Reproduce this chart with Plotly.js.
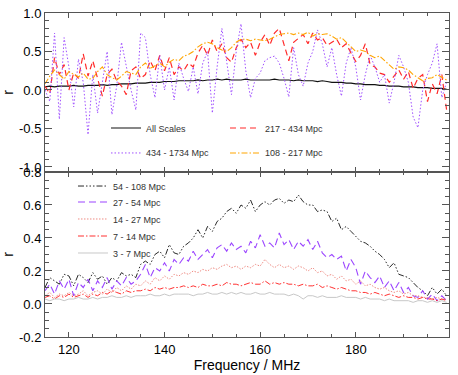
<!DOCTYPE html>
<html>
<head>
<meta charset="utf-8">
<script src="https://cdn.plot.ly/plotly-3.0.1.min.js"></script>
<style>
  html, body { margin: 0; padding: 0; background: #fff; }
  #corr_graph { width: 458px; height: 375px; }
</style>
</head>
<body>
<div id="corr_graph"></div>
<script>
var freq = [115,116,117,118,119,120,121,122,123,124,
  125,126,127,128,129,130,131,132,133,134,
  135,136,137,138,139,140,141,142,143,144,
  145,146,147,148,149,150,151,152,153,154,
  155,156,157,158,159,160,161,162,163,164,
  165,166,167,168,169,170,171,172,173,174,
  175,176,177,178,179,180,181,182,183,184,
  185,186,187,188,189,190,191,192,193,194,
  195,196,197,198,199];

// top panel
var r_all = [0.04,0.05,0.04,0.05,0.05,0.05,0.06,0.05,0.05,0.06,
  0.06,0.06,0.07,0.06,0.07,0.07,0.08,0.08,0.08,0.09,
  0.09,0.09,0.10,0.10,0.10,0.11,0.11,0.11,0.12,0.12,
  0.12,0.12,0.13,0.12,0.13,0.13,0.14,0.13,0.14,0.13,
  0.13,0.13,0.14,0.13,0.13,0.13,0.13,0.13,0.14,0.13,
  0.13,0.13,0.12,0.13,0.12,0.12,0.12,0.11,0.12,0.11,
  0.10,0.10,0.10,0.09,0.09,0.08,0.08,0.07,0.07,0.07,
  0.06,0.06,0.05,0.05,0.05,0.04,0.04,0.04,0.03,0.03,
  0.03,0.02,0.02,0.02,0.01];

var r_217 = [0.05,-0.05,0.42,0.2,0.33,0.0,0.22,0.15,0.47,0.18,
  0.38,0.15,-0.08,0.2,0.27,0.12,0.05,-0.06,0.25,0.3,
  0.15,0.2,0.38,0.25,0.45,0.25,0.42,0.2,0.3,0.25,
  0.35,0.3,0.48,0.58,0.45,0.65,0.5,0.6,0.42,0.36,
  0.55,0.66,0.55,0.62,0.45,0.62,0.72,0.58,0.74,0.8,
  0.6,0.38,0.62,0.67,0.72,0.6,0.74,0.65,0.68,0.58,
  0.62,0.66,0.55,0.6,0.48,0.37,0.45,0.6,0.33,0.3,
  0.22,0.2,0.1,0.18,0.26,0.14,0.24,0.02,0.15,0.2,
  -0.15,0.08,-0.05,0.2,-0.26];

var r_434 = [0.0,-0.15,0.74,-0.38,0.68,0.3,-0.22,0.4,0.1,-0.58,
  0.2,-0.3,0.1,0.5,-0.32,0.05,0.62,0.3,0.0,-0.26,
  0.74,0.68,0.2,-0.1,0.45,0.0,0.3,-0.13,0.35,0.15,
  -0.02,0.3,-0.05,0.35,0.5,-0.3,0.3,0.8,0.4,-0.06,
  0.5,0.86,0.25,-0.1,0.15,0.22,0.38,0.42,0.44,0.35,
  0.15,-0.09,0.55,0.2,0.05,0.35,0.5,0.78,0.6,0.3,
  0.55,0.2,-0.08,0.35,0.55,0.3,-0.13,0.2,0.45,0.3,
  0.1,0.2,-0.17,0.1,0.45,0.3,0.1,-0.35,-0.49,0.0,
  0.2,0.35,0.6,-0.1,0.1];

var r_108 = [0.08,0.18,0.26,0.2,0.14,0.24,0.2,0.17,0.22,0.14,
  0.15,0.24,0.3,0.2,0.16,0.13,0.18,0.24,0.22,0.2,
  0.3,0.35,0.28,0.32,0.35,0.3,0.36,0.4,0.38,0.44,
  0.46,0.5,0.56,0.6,0.62,0.6,0.55,0.52,0.5,0.55,
  0.62,0.66,0.66,0.64,0.66,0.65,0.64,0.66,0.69,0.72,
  0.73,0.74,0.72,0.74,0.72,0.75,0.7,0.73,0.72,0.73,
  0.7,0.66,0.68,0.62,0.55,0.5,0.52,0.5,0.45,0.42,
  0.44,0.38,0.33,0.27,0.3,0.29,0.26,0.2,0.16,0.12,
  0.15,0.16,0.2,0.17,0.13];

// bottom panel
var r_54 = [0.1,0.16,0.14,0.12,0.18,0.17,0.11,0.18,0.16,0.13,
  0.19,0.15,0.17,0.12,0.16,0.14,0.19,0.17,0.18,0.16,
  0.24,0.26,0.24,0.3,0.32,0.28,0.36,0.31,0.3,0.35,
  0.37,0.4,0.45,0.4,0.47,0.44,0.5,0.52,0.56,0.58,
  0.55,0.6,0.58,0.63,0.56,0.6,0.62,0.6,0.63,0.64,
  0.61,0.63,0.62,0.66,0.62,0.6,0.6,0.56,0.57,0.56,
  0.5,0.52,0.45,0.47,0.44,0.41,0.38,0.37,0.35,0.32,
  0.3,0.27,0.22,0.25,0.18,0.17,0.16,0.13,0.1,0.08,
  0.05,0.1,0.06,0.09,0.05];

var r_27 = [0.08,0.12,0.06,0.14,0.09,0.15,0.05,0.13,0.1,0.15,
  0.08,0.14,0.1,0.16,0.09,0.14,0.11,0.16,0.12,0.14,
  0.18,0.24,0.16,0.22,0.2,0.25,0.2,0.27,0.24,0.28,
  0.26,0.32,0.27,0.3,0.33,0.28,0.34,0.36,0.32,0.37,
  0.33,0.35,0.31,0.38,0.34,0.42,0.35,0.37,0.34,0.43,
  0.36,0.39,0.33,0.38,0.35,0.39,0.33,0.38,0.31,0.28,
  0.3,0.27,0.29,0.2,0.27,0.22,0.12,0.2,0.16,0.13,
  0.17,0.1,0.14,0.08,0.13,0.07,0.1,0.05,0.04,0.08,
  0.03,0.06,0.02,0.05,0.02];

var r_14 = [0.05,0.07,0.04,0.06,0.05,0.07,0.05,0.06,0.08,0.05,
  0.07,0.08,0.06,0.09,0.07,0.1,0.08,0.11,0.09,0.12,
  0.11,0.14,0.12,0.16,0.14,0.17,0.15,0.18,0.17,0.19,
  0.18,0.2,0.19,0.21,0.2,0.22,0.21,0.23,0.24,0.22,
  0.23,0.21,0.23,0.22,0.24,0.23,0.27,0.24,0.22,0.24,
  0.22,0.23,0.21,0.23,0.22,0.2,0.22,0.19,0.2,0.17,
  0.18,0.15,0.17,0.14,0.15,0.12,0.14,0.11,0.12,0.1,
  0.09,0.1,0.08,0.07,0.08,0.06,0.07,0.05,0.05,0.04,
  0.04,0.03,0.04,0.03,0.03];

var r_7 = [0.04,0.05,0.03,0.05,0.04,0.06,0.04,0.05,0.06,0.04,
  0.06,0.05,0.07,0.06,0.08,0.07,0.06,0.08,0.07,0.08,
  0.08,0.09,0.08,0.1,0.09,0.1,0.09,0.1,0.1,0.11,
  0.1,0.11,0.1,0.12,0.11,0.11,0.12,0.11,0.13,0.12,
  0.12,0.11,0.12,0.13,0.12,0.12,0.14,0.12,0.13,0.12,
  0.13,0.12,0.12,0.11,0.12,0.11,0.11,0.12,0.1,0.11,
  0.1,0.09,0.1,0.09,0.08,0.08,0.07,0.07,0.06,0.07,
  0.06,0.05,0.06,0.05,0.04,0.05,0.04,0.04,0.03,0.04,
  0.03,0.03,0.02,0.03,0.02];

var r_3 = [0.03,0.02,0.03,0.03,0.02,0.03,0.03,0.04,0.03,0.03,
  0.04,0.03,0.04,0.04,0.05,0.04,0.04,0.05,0.04,0.05,
  0.05,0.05,0.06,0.05,0.05,0.06,0.05,0.06,0.06,0.06,
  0.06,0.05,0.06,0.06,0.07,0.06,0.06,0.07,0.06,0.07,
  0.06,0.07,0.06,0.06,0.07,0.06,0.06,0.07,0.06,0.06,
  0.06,0.05,0.06,0.05,0.03,0.05,0.05,0.04,0.05,0.04,
  0.04,0.04,0.05,0.04,0.04,0.04,0.03,0.04,0.03,0.03,
  0.03,0.02,0.03,0.02,0.02,0.02,0.02,0.01,0.02,0.02,
  0.01,0.02,0.01,0.02,0.01];

var top_ticks = [-1, -0.5, 0, 0.5, 1];
var top_labels = ['-1.0', '-0.5', '0.0', '0.5', '1.0'];
var bot_ticks = [-0.2, 0, 0.2, 0.4, 0.6, 0.8];
var bot_labels = ['-0.2', '0.0', '0.2', '0.4', '0.6', '0.8'];

var axisCol = '#555';
var fontFam = 'Liberation Sans, Arial, sans-serif';

function line(y, name, color, dash, width, xa, ya, leg) {
  return {
    x: freq, y: y, type: 'scatter', mode: 'lines', name: name,
    xaxis: xa, yaxis: ya, legend: leg, showlegend: true,
    line: { color: color, dash: dash, width: width },
    hoverinfo: 'skip'
  };
}

var data = [
  line(r_all, 'All Scales', '#111111', 'solid', 1.2, 'x2', 'y2', 'legend'),
  line(r_217, '217 - 434 Mpc', '#ff2a2a', '6px,4px', 1.2, 'x2', 'y2', 'legend2'),
  line(r_434, '434 - 1734 Mpc', '#a050ff', '1.5px,2px', 1.0, 'x2', 'y2', 'legend3'),
  line(r_108, '108 - 217 Mpc', '#ffa500', '6px,2px,1.5px,2px', 1.1, 'x2', 'y2', 'legend4'),
  line(r_54, '54 - 108 Mpc', '#111111', '6px,2px,1.5px,2px,1.5px,2px,1.5px,2px', 0.9, 'x', 'y', 'legend5'),
  line(r_27, '27 - 54 Mpc', '#9b45ff', '7px,4px', 1.1, 'x', 'y', 'legend6'),
  line(r_14, '14 - 27 Mpc', '#ec7f76', '1.5px,1.5px', 0.9, 'x', 'y', 'legend7'),
  line(r_7, '7 - 14 Mpc', '#ff1a1a', '6px,2px,1.5px,2px', 0.9, 'x', 'y', 'legend8'),
  line(r_3, '3 - 7 Mpc', '#c8c8c8', 'solid', 1.0, 'x', 'y', 'legend9')
];

function leg(x, y) {
  return {
    x: x, y: y, xanchor: 'left', yanchor: 'middle',
    bgcolor: 'rgba(0,0,0,0)', borderwidth: 0,
    font: { family: fontFam, size: 9, color: '#333' }
  };
}

var xBase = {
  range: [115, 199.5], showgrid: false, zeroline: false,
  showline: true, linecolor: axisCol, linewidth: 1, mirror: 'allticks',
  ticks: 'inside', ticklen: 5, tickcolor: axisCol, tickmode: 'linear', tick0: 0, dtick: 20,
  minor: { ticks: 'inside', ticklen: 3, tickcolor: axisCol, dtick: 5, tick0: 0 },
  tickfont: { family: fontFam, size: 13, color: '#000' }
};

var layout = {
  width: 458, height: 375,
  margin: { l: 45, r: 9, t: 13, b: 38 },
  paper_bgcolor: '#fff', plot_bgcolor: '#fff',
  font: { family: fontFam, color: '#000' },
  showlegend: true,
  xaxis: Object.assign({}, xBase, {
    anchor: 'y', domain: [0, 1],
    title: { text: 'Frequency / MHz', font: { family: fontFam, size: 14 }, standoff: 4 }
  }),
  xaxis2: Object.assign({}, xBase, { anchor: 'y2', matches: 'x', showticklabels: false }),
  yaxis: {
    domain: [0, 0.5093], range: [-0.2, 0.8], anchor: 'x',
    tickmode: 'array', tickvals: bot_ticks, ticktext: bot_labels,
    showgrid: false, zeroline: false, showline: true, linecolor: axisCol, mirror: 'allticks',
    ticks: 'inside', ticklen: 7, tickcolor: axisCol,
    minor: { ticks: 'inside', ticklen: 4, tickcolor: axisCol, tickmode: 'linear', tick0: 0, dtick: 0.05 },
    tickfont: { family: fontFam, size: 13 },
    title: { text: 'r', font: { family: fontFam, size: 14 }, standoff: 8 }
  },
  yaxis2: {
    domain: [0.5093, 1], range: [-1.065, 1.0], anchor: 'x2',
    tickmode: 'array', tickvals: top_ticks, ticktext: top_labels,
    showgrid: false, zeroline: false, showline: true, linecolor: axisCol, mirror: 'allticks',
    ticks: 'inside', ticklen: 7, tickcolor: axisCol,
    minor: { ticks: 'inside', ticklen: 4, tickcolor: axisCol, tickmode: 'linear', tick0: 0, dtick: 0.1 },
    tickfont: { family: fontFam, size: 13 },
    title: { text: 'r', font: { family: fontFam, size: 14 }, standoff: 8 }
  },
  legend: leg(0.151, 0.645),
  legend2: leg(0.4455, 0.645),
  legend3: leg(0.151, 0.568),
  legend4: leg(0.4455, 0.568),
  legend5: leg(0.0693, 0.466),
  legend6: leg(0.0693, 0.4167),
  legend7: leg(0.0693, 0.3642),
  legend8: leg(0.0693, 0.3117),
  legend9: leg(0.0693, 0.2593)
};

Plotly.newPlot('corr_graph', data, layout, { displayModeBar: false, staticPlot: true });
</script>
</body>
</html>
